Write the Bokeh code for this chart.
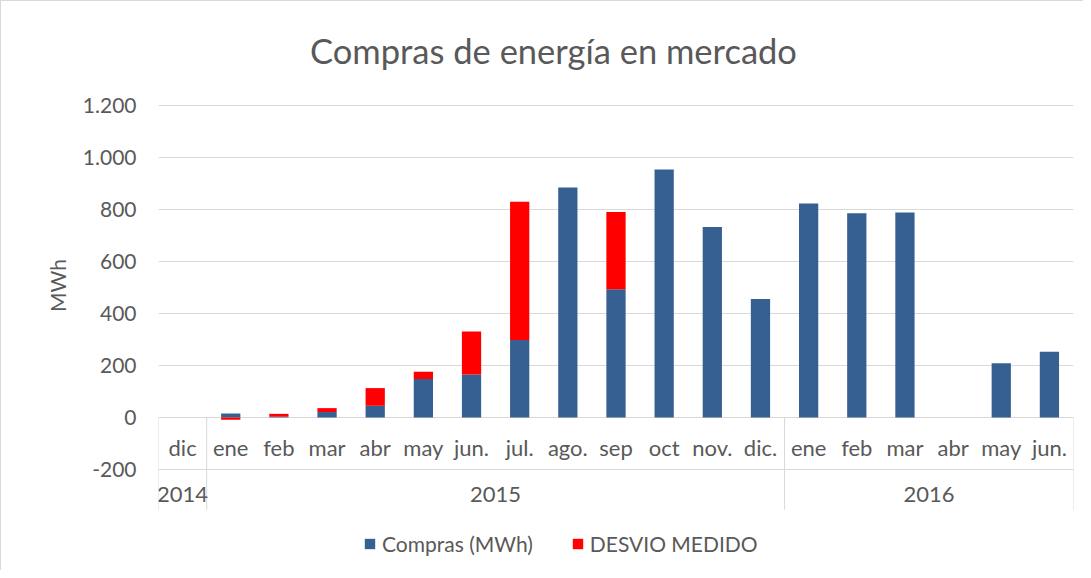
import numpy as np
from bokeh.plotting import figure
from bokeh.models import Range1d, FixedTicker, Label, Legend, LegendItem
from bokeh.core.properties import value
from bokeh.embed import file_html
from bokeh.resources import INLINE

# ---- data ----
months = ["dic", "ene", "feb", "mar", "abr", "may", "jun.", "jul.", "ago.", "sep",
          "oct", "nov.", "dic.", "ene", "feb", "mar", "abr", "may", "jun."]
years = ["2014", "2015", "2016"]
months_per_year = [1, 12, 6]
compras = [0, 15, 3, 21, 45, 148, 165, 298, 885, 493, 954, 733, 456, 823, 786, 788, 0, 209, 253]
desvio = [0, -9, 11, 15, 68, 28, 166, 532, 0, 297, 0, 0, 0, 0, 0, 0, 0, 0, 0]
y_ticks = [-200, 0, 200, 400, 600, 800, 1000, 1200]
y_tick_labels = ["-200", "0", "200", "400", "600", "800", "1.000", "1.200"]
title_text = "Compras de energía en mercado"
y_label = "MWh"
series_names = ["Compras (MWh)", "DESVIO MEDIDO"]

# ---- style ----
FONT = "Lato"
TXT = "#595959"
GRID = "#d9d9d9"
BLUE = "#376092"
RED = "#ff0000"
# the plotting frame spans the full canvas height; gridlines only at the fixed ticks
Y_MIN = -588.5
Y_MAX = 1603.8
TABLE_BOTTOM = -355

n = len(months)
xc = np.arange(n) + 0.5
c = np.array(compras, float)
d = np.array(desvio, float)
red_bottom = np.where(d >= 0, c, 0.0)
red_top = red_bottom + d

p = figure(width=1083, height=570, x_range=Range1d(0, n), y_range=Range1d(Y_MIN, Y_MAX),
           x_axis_type=None, output_backend="svg", toolbar_location=None,
           min_border_left=158, min_border_right=10, min_border_top=0, min_border_bottom=0)
p.outline_line_color = None
p.border_fill_color = None
p.background_fill_color = None
p.styles = {"box-shadow": "inset 1px 1px 0 0 #d9d9d9"}

# y axis
ax = p.yaxis[0]
ax.ticker = FixedTicker(ticks=y_ticks)
ax.major_label_overrides = {t: s for t, s in zip(y_ticks, y_tick_labels)}
ax.axis_line_color = None
ax.major_tick_line_color = None
ax.minor_tick_line_color = None
ax.major_tick_out = 0
ax.major_tick_in = 0
ax.major_label_standoff = 22
ax.major_label_text_font = FONT
ax.major_label_text_font_size = "21px"
ax.major_label_text_color = TXT
ax.axis_label = y_label
ax.axis_label_standoff = 10
ax.axis_label_text_font = FONT
ax.axis_label_text_font_size = "21px"
ax.axis_label_text_font_style = "normal"
ax.axis_label_text_color = TXT

p.ygrid.ticker = FixedTicker(ticks=y_ticks)
p.ygrid.grid_line_color = GRID
p.ygrid.grid_line_width = 1

# bars
r1 = p.vbar(x=xc, bottom=0, top=c, width=0.4, fill_color=BLUE, line_color=None)
r2 = p.vbar(x=xc, bottom=red_bottom, top=red_top, width=0.4, fill_color=RED, line_color=None)

# category table
bounds = np.concatenate([[0], np.cumsum(months_per_year)]).astype(float)
p.segment(x0=bounds, x1=bounds, y0=0, y1=TABLE_BOTTOM, line_color=GRID, line_width=1)
p.text(x=xc, y=-115, text=months, text_align="center", text_baseline="middle",
       text_font=value(FONT), text_font_size="22px", text_color=TXT)
ycent = bounds[:-1] + np.array(months_per_year) / 2.0
p.text(x=ycent, y=-296, text=years, text_align="center", text_baseline="middle",
       text_font=value(FONT), text_font_size="22px", text_color=TXT)

# title
p.add_layout(Label(x=395, y=520, x_units="screen", y_units="screen", text=title_text,
                   text_align="center", text_baseline="alphabetic", text_font=FONT,
                   text_font_size="34.5px", text_color=TXT))

legend = Legend(items=[LegendItem(label=series_names[0], renderers=[r1]),
                       LegendItem(label=series_names[1], renderers=[r2])],
                orientation="horizontal", location=(205, 14))
legend.label_text_font = FONT
legend.label_text_font_size = "21px"
legend.label_text_color = TXT
legend.glyph_width = 13
legend.glyph_height = 13
legend.label_standoff = 6
legend.spacing = 38
legend.padding = 0
legend.margin = 0
legend.border_line_color = None
legend.background_fill_alpha = 0
p.add_layout(legend)

open("out.html", "w").write(file_html(p, INLINE))
